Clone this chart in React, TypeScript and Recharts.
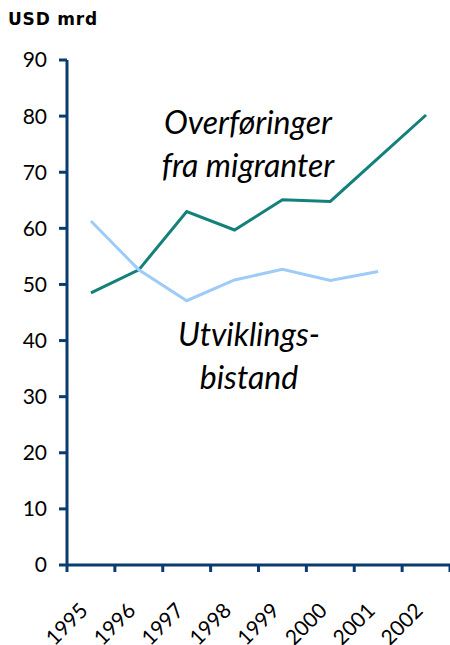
import { Line, LineChart, XAxis, YAxis } from 'recharts'

const years = ['1995', '1996', '1997', '1998', '1999', '2000', '2001', '2002']
const remittances = [48.5, 52.6, 63.0, 59.7, 65.1, 64.8, 72.5, 80.2]
const aid = [61.3, 52.6, 47.1, 50.8, 52.7, 50.7, 52.3, null]
const yTicks = [0, 10, 20, 30, 40, 50, 60, 70, 80, 90]

const data = years.map((year, i) => ({
  pos: i + 0.5,
  year,
  remittances: remittances[i],
  aid: aid[i],
}))

const axisColor = '#0c3b70'
const font = 'Lato, "Open Sans", sans-serif'

const YearTick = ({ x, y, payload }) => {
  const label = years[payload.value]
  if (!label) return null
  return (
    <text
      x={x + 22}
      y={y + 38}
      transform={`rotate(-45, ${x + 22}, ${y + 38})`}
      textAnchor="end"
      fontSize={21}
      fontFamily={font}
      fill="#000"
    >
      {label}
    </text>
  )
}

const labelStyle = {
  position: 'absolute' as const,
  fontFamily: font,
  fontStyle: 'italic',
  fontSize: 32,
  lineHeight: '43px',
  textAlign: 'center' as const,
  color: '#000',
  width: 260,
}

export default function App() {
  return (
    <div style={{ position: 'absolute', left: 0, top: 0, width: 450, height: 645, background: '#fff', overflow: 'hidden' }}>
      <div
        style={{
          position: 'absolute',
          left: 8,
          top: 9,
          fontFamily: '"DejaVu Sans", sans-serif',
          fontWeight: 'bold',
          fontSize: 17,
          letterSpacing: 0.8,
        }}
      >
        USD mrd
      </div>
      <LineChart
        width={450}
        height={645}
        data={data}
        margin={{ top: 60, right: 0, bottom: 0, left: 0 }}
      >
        <XAxis
          dataKey="pos"
          type="number"
          domain={[0, 8]}
          ticks={[0, 1, 2, 3, 4, 5, 6, 7, 8]}
          interval={0}
          height={80}
          tickSize={7}
          stroke={axisColor}
          strokeWidth={3}
          tick={YearTick}
        />
        <YAxis
          domain={[0, 90]}
          ticks={yTicks}
          interval={0}
          width={67}
          tickSize={8}
          tickMargin={12}
          stroke={axisColor}
          strokeWidth={3}
          tick={{ fill: '#000', fontSize: 21, fontFamily: font }}
        />
        <Line
          dataKey="remittances"
          stroke="#14807a"
          strokeWidth={3}
          dot={false}
          isAnimationActive={false}
        />
        <Line
          dataKey="aid"
          stroke="#9ecbf8"
          strokeWidth={3}
          dot={false}
          isAnimationActive={false}
        />
      </LineChart>
      <div style={{ ...labelStyle, left: 118, top: 100 }}>
        Overføringer
        <br />
        fra migranter
      </div>
      <div style={{ ...labelStyle, left: 119, top: 312 }}>
        Utviklings-
        <br />
        bistand
      </div>
    </div>
  )
}
